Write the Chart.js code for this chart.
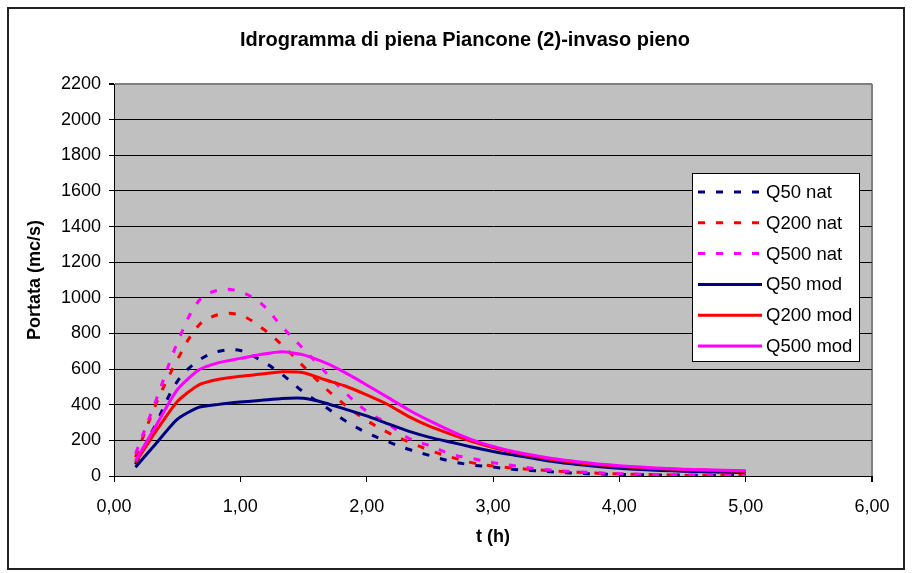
<!DOCTYPE html>
<html>
<head>
<meta charset="utf-8">
<script src="https://cdn.jsdelivr.net/npm/chart.js@4"></script>
<style>
  html, body { margin: 0; padding: 0; background: #fff; }
</style>
</head>
<body>
<canvas id="idro-chart" width="912" height="573"></canvas>
<script>
const chartTitle = 'Idrogramma di piena Piancone (2)-invaso pieno';

// time (h)
const tHours = [0.17, 0.33, 0.5, 0.67, 0.83, 1, 1.17, 1.33, 1.5, 1.67, 1.83, 2, 2.17, 2.33, 2.5,
  2.67, 2.83, 3, 3.17, 3.33, 3.5, 3.67, 3.83, 4, 4.17, 4.33, 4.5, 4.67, 4.83, 5];

// portata (mc/s)
const q50nat  = [65, 290, 530, 648, 700, 704, 646, 570, 471, 390, 310, 243, 192, 150, 115, 82, 62, 50, 37, 30, 21, 15, 11, 9, 7, 6, 5, 4, 3, 3];
const q200nat = [105, 400, 650, 845, 906, 903, 831, 735, 615, 495, 398, 312, 243, 192, 144, 105, 75, 56, 44, 36, 27, 21, 16, 12, 9, 7, 5, 4, 3, 2];
const q500nat = [125, 420, 745, 982, 1044, 1034, 965, 838, 713, 585, 468, 363, 292, 213, 170, 122, 99, 75, 57, 42, 31, 24, 18, 13, 10, 8, 6, 4, 3, 2];
const q50mod  = [49, 180, 318, 385, 402, 415, 425, 435, 436, 410, 375, 337, 293, 252, 217, 189, 163, 138, 117, 98, 79, 65, 53, 43, 36, 31, 27, 24, 21, 19];
const q200mod = [75, 249, 417, 511, 543, 560, 572, 585, 580, 540, 505, 455, 400, 335, 279, 234, 195, 160, 132, 110, 90, 75, 63, 54, 47, 41, 37, 33, 30, 26];
const q500mod = [85, 280, 483, 595, 636, 660, 683, 697, 680, 636, 580, 511, 440, 372, 309, 252, 204, 166, 136, 115, 95, 80, 68, 58, 50, 43, 38, 35, 32, 30];

const seriesNames = ['Q50 nat', 'Q200 nat', 'Q500 nat', 'Q50 mod', 'Q200 mod', 'Q500 mod'];
const seriesValues = [q50nat, q200nat, q500nat, q50mod, q200mod, q500mod];
const seriesColors = ['#000080', '#FF0000', '#FF00FF', '#000080', '#FF0000', '#FF00FF'];
const seriesDashed = [true, true, true, false, false, false];

const yTicksMax = 2200;
const xTicksMax = 6;

const FONT = '"Liberation Sans", Arial, sans-serif';
const dashPattern = [7, 11];

const datasets = seriesNames.map((name, i) => ({
  label: name,
  data: tHours.map((t, k) => ({ x: t, y: seriesValues[i][k] })),
  borderColor: seriesColors[i],
  backgroundColor: seriesColors[i],
  borderWidth: 3,
  borderDash: seriesDashed[i] ? dashPattern : [],
  pointRadius: 0,
  tension: seriesDashed[i] ? 0.35 : 0.2,
  fill: false,
  order: seriesNames.length - i
}));

// gray plot background, title, legend, outer frame
const excelLook = {
  id: 'excelLook',
  beforeDraw(chart) {
    const { ctx, chartArea } = chart;
    ctx.save();
    ctx.fillStyle = '#fff';
    ctx.fillRect(0, 0, chart.width, chart.height);
    ctx.fillStyle = '#C0C0C0';
    ctx.fillRect(chartArea.left, chartArea.top, chartArea.right - chartArea.left, chartArea.bottom - chartArea.top);
    ctx.restore();
  },
  afterDraw(chart) {
    const ctx = chart.ctx;
    ctx.save();
    // title
    ctx.fillStyle = '#000';
    ctx.font = 'bold 20px ' + FONT;
    ctx.textAlign = 'center';
    ctx.textBaseline = 'middle';
    ctx.fillText(chartTitle, 465, 40);

    // legend
    const lx = 692, ly = 173, lw = 167, lh = 188;
    ctx.fillStyle = '#fff';
    ctx.fillRect(lx, ly, lw, lh);
    ctx.strokeStyle = '#000';
    ctx.lineWidth = 1;
    ctx.strokeRect(lx + 0.5, ly + 0.5, lw, lh);
    ctx.font = '18.5px ' + FONT;
    ctx.textAlign = 'left';
    seriesNames.forEach((name, i) => {
      const y = 192 + i * 30.8;
      ctx.beginPath();
      ctx.setLineDash(seriesDashed[i] ? dashPattern : []);
      ctx.strokeStyle = seriesColors[i];
      ctx.lineWidth = 3;
      ctx.moveTo(698, y);
      ctx.lineTo(762, y);
      ctx.stroke();
      ctx.setLineDash([]);
      ctx.fillStyle = '#000';
      ctx.fillText(name, 766, y + 1);
    });

    // outer frame
    ctx.strokeStyle = '#222';
    ctx.lineWidth = 2;
    ctx.strokeRect(8, 8, 896, 561);
    ctx.restore();
  }
};

const config = {
  type: 'line',
  data: { datasets: datasets },
  options: {
    responsive: false,
    animation: false,
    devicePixelRatio: 1,
    layout: {
      padding: { top: 84, left: 0, right: 40, bottom: 17 }
    },
    plugins: {
      legend: { display: false },
      tooltip: { enabled: false }
    },
    scales: {
      x: {
        type: 'linear',
        min: 0,
        max: xTicksMax,
        afterFit: (scale) => { scale.height = 80; },
        ticks: {
          stepSize: 1,
          color: '#000',
          font: { family: FONT, size: 18 },
          padding: 14,
          maxRotation: 0,
          callback: (v) => v.toFixed(2).replace('.', ',')
        },
        grid: {
          color: (c) => (c.tick && c.tick.value === xTicksMax) ? '#808080' : 'rgba(0,0,0,0)',
          lineWidth: (c) => (c.tick && c.tick.value === xTicksMax) ? 2 : 1,
          tickColor: '#000',
          tickLength: 6
        },
        border: { color: '#000', width: 1 },
        title: {
          display: true,
          text: 't (h)',
          color: '#000',
          font: { family: FONT, size: 18, weight: 'bold' },
          padding: { top: 0, bottom: 8 }
        }
      },
      y: {
        min: 0,
        max: yTicksMax,
        afterFit: (scale) => { scale.width = 114; },
        ticks: {
          stepSize: 200,
          color: '#000',
          font: { family: FONT, size: 18 },
          padding: 8,
          callback: (v) => String(v)
        },
        grid: {
          color: (c) => (c.tick && c.tick.value === yTicksMax) ? '#808080' : '#000',
          lineWidth: (c) => (c.tick && c.tick.value === yTicksMax) ? 2 : 1,
          tickColor: '#000',
          tickLength: 5
        },
        border: { color: '#000', width: 1 },
        title: {
          display: true,
          text: 'Portata (mc/s)',
          color: '#000',
          font: { family: FONT, size: 18, weight: 'bold' },
          padding: { top: 24, bottom: 0 }
        }
      }
    }
  },
  plugins: [excelLook]
};

const chart = new Chart(document.getElementById('idro-chart'), config);
</script>
</body>
</html>
